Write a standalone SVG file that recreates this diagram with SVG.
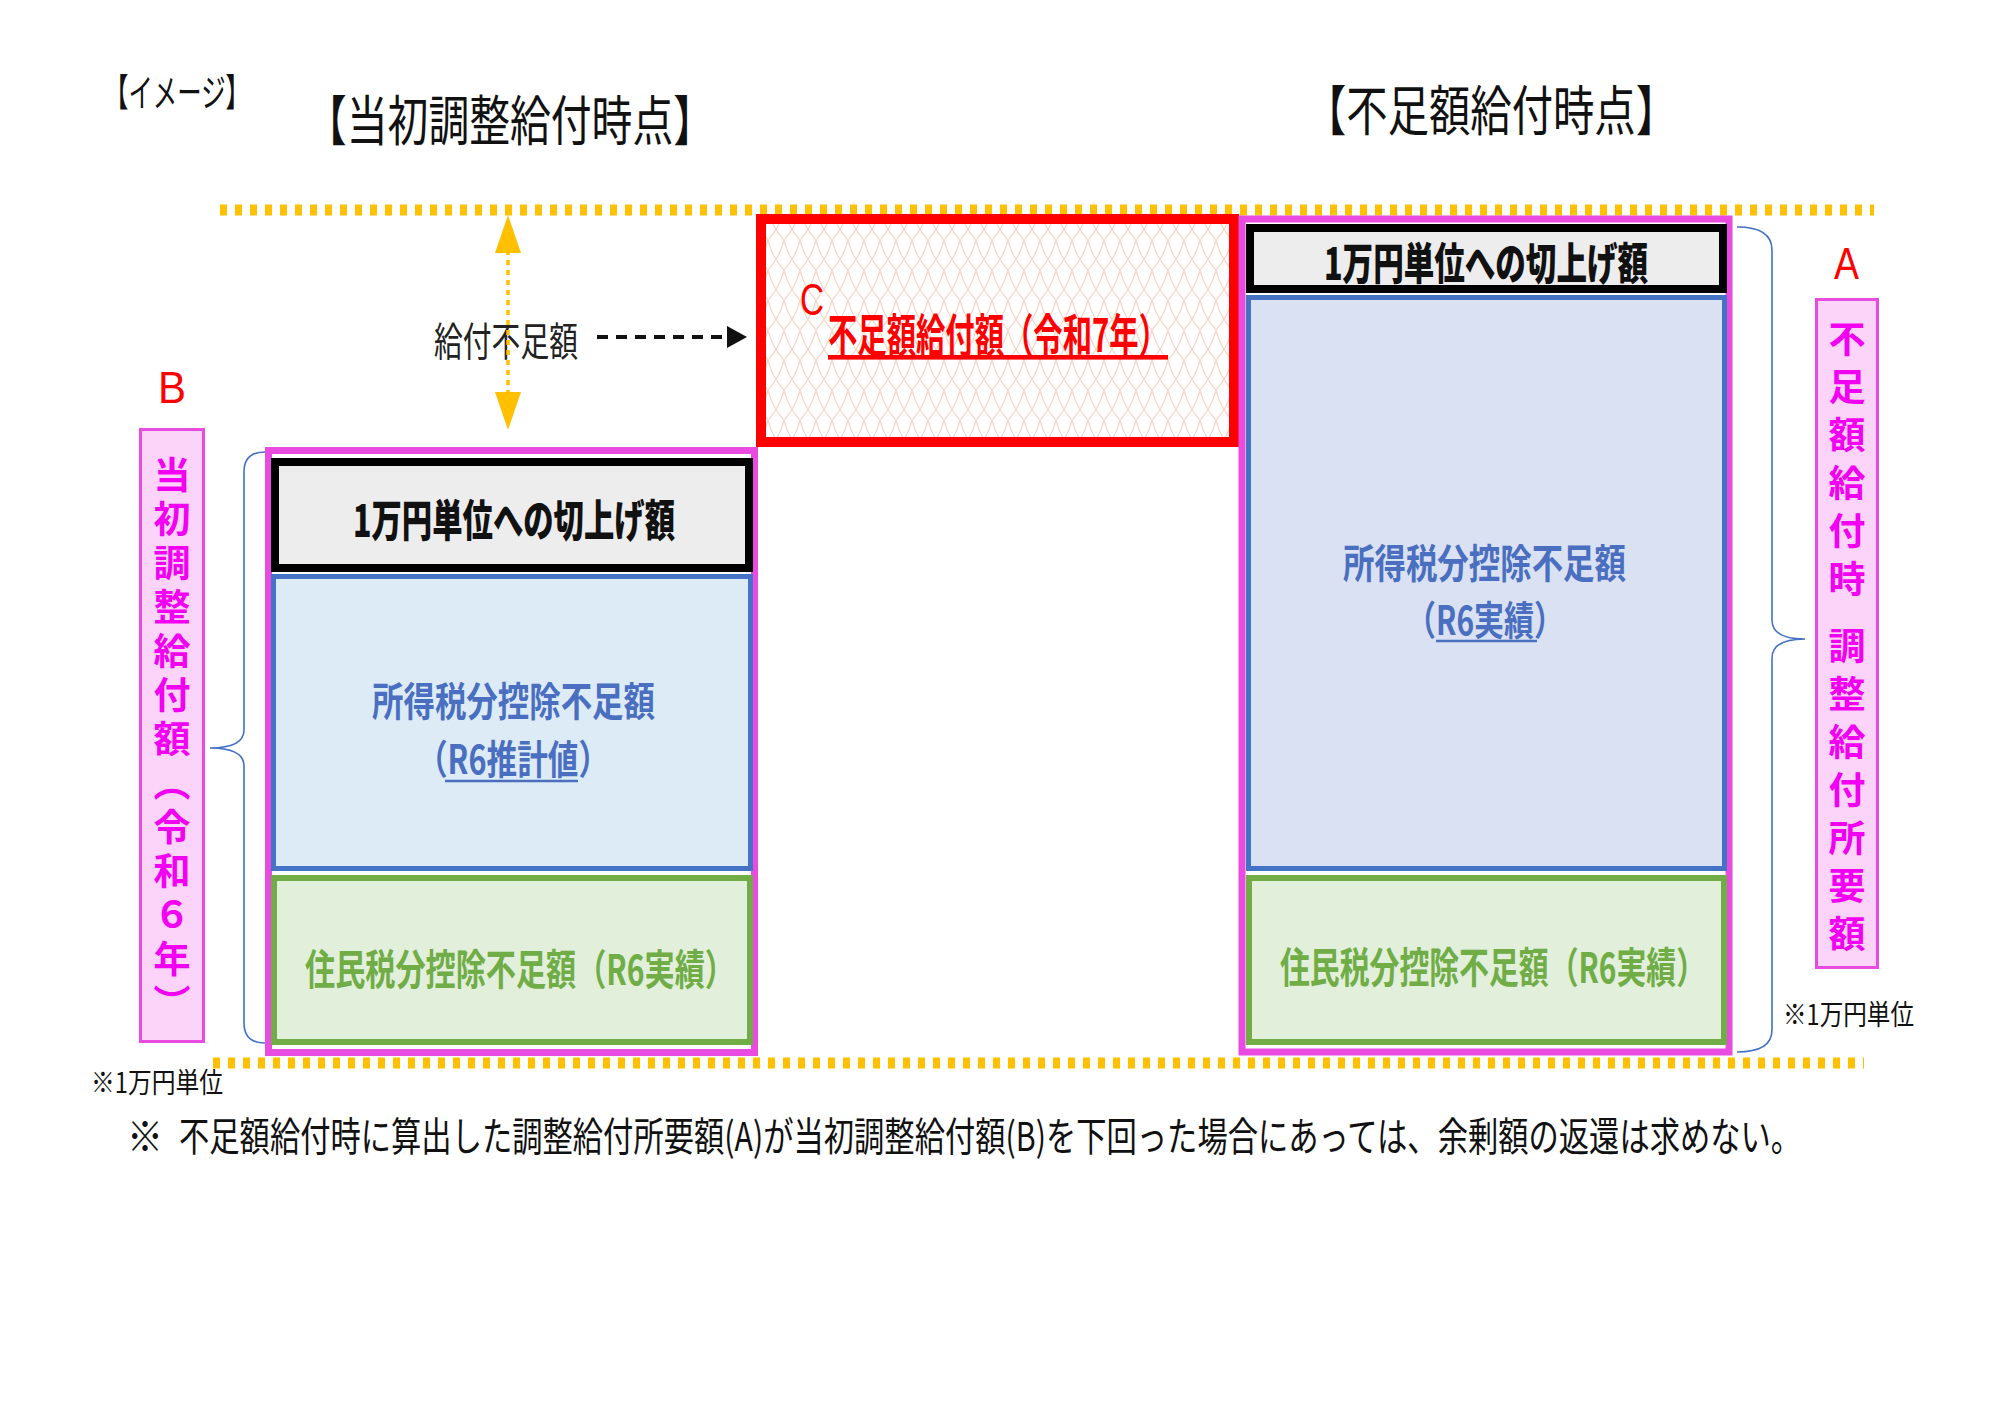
<svg xmlns="http://www.w3.org/2000/svg" width="2000" height="1414" viewBox="0 0 2000 1414">
<style>
  .jp { font-family: "Noto Sans CJK JP", "Noto Sans", sans-serif; }
  .lat { font-family: "Liberation Sans", Arial, sans-serif; }
  .title { font-size: 54px; fill: #111; }
  .cap { font-size: 44px; font-weight: 900; fill: #111; }
  .blue { font-size: 40px; font-weight: 700; fill: #4A6FC0; }
  .green { font-size: 42px; font-weight: 700; fill: #70AD47; }
  .red { fill: #FF0000; }
  .mag { font-size: 37px; font-weight: 700; fill: #F200F2; writing-mode: vertical-rl; }
  .note { font-size: 40px; fill: #111; }
  .small { font-size: 28px; fill: #111; }
  .pink { fill: none; stroke: #E94ADF; stroke-width: 7; }
  .blk { fill: #EDEDED; stroke: #000; stroke-width: 8; }
  .bluebox { stroke: #4472C4; stroke-width: 5; }
  .grn { fill: #E2EFDA; stroke: #70AD47; stroke-width: 6; }
  .lbl { fill: #FCD4FA; stroke: #E94ADF; stroke-width: 3; }
  .brace { fill: none; stroke: #4472C4; stroke-width: 1.6; }
  .gold { fill: none; stroke: #FFC000; stroke-width: 11; stroke-dasharray: 7 8; }
  .uline { stroke: #4A6FC0; stroke-width: 2.5; }
</style>
<defs>
  <pattern id="hatch" width="16" height="30" patternUnits="userSpaceOnUse">
    <rect width="16" height="30" fill="#FFFFFF"/>
    <path d="M0,0 Q4,17 16,30 M16,0 Q12,17 0,30" stroke="#F8D2C0" stroke-width="1.1" fill="none"/>
  </pattern>
</defs>
<rect width="2000" height="1414" fill="#FFFFFF"/>

<!-- headings -->
<text class="jp" x="104" y="106" font-size="38" fill="#111" textLength="146" lengthAdjust="spacingAndGlyphs">【イメージ】</text>
<text class="jp title" x="306" y="141" textLength="408" lengthAdjust="spacingAndGlyphs">【当初調整給付時点】</text>
<text class="jp title" x="1305" y="131" textLength="372" lengthAdjust="spacingAndGlyphs">【不足額給付時点】</text>

<!-- level lines -->
<g id="levels">
  <line class="gold" x1="220" y1="210" x2="1874" y2="210"/>
  <line class="gold" x1="213" y1="1063" x2="1864" y2="1063"/>
</g>

<!-- C box -->
<g id="nodeC">
  <rect x="761" y="219" width="473" height="223" fill="url(#hatch)" stroke="#FF0000" stroke-width="10"/>
  <text class="lat red" x="800" y="315" font-size="44" textLength="24" lengthAdjust="spacingAndGlyphs">C</text>
  <text class="jp red" x="828" y="352" font-size="46" font-weight="700" textLength="340" lengthAdjust="spacingAndGlyphs" text-decoration="underline">不足額給付額（令和7年）</text>
</g>

<!-- left column -->
<g id="leftColumn">
  <rect class="pink" x="268.5" y="450.5" width="486" height="602"/>
  <g id="leftRound">
    <rect class="blk" x="275" y="462" width="474" height="106"/>
    <text class="jp cap" x="353" y="537" textLength="322" lengthAdjust="spacingAndGlyphs">1万円単位への切上げ額</text>
  </g>
  <g id="leftIncome">
    <rect class="bluebox" x="273.5" y="576.5" width="477" height="292" fill="#DDEBF7"/>
    <text class="jp blue" x="372" y="716" textLength="283" lengthAdjust="spacingAndGlyphs">所得税分控除不足額</text>
    <text class="jp blue" x="417" y="774" textLength="192" lengthAdjust="spacingAndGlyphs">（R6推計値）</text>
    <line class="uline" x1="445" y1="781" x2="578" y2="781"/>
  </g>
  <g id="leftResident">
    <rect class="grn" x="274" y="878" width="476" height="164"/>
    <text class="jp green" x="305" y="985" textLength="430" lengthAdjust="spacingAndGlyphs">住民税分控除不足額（R6実績）</text>
  </g>
</g>

<!-- right column -->
<g id="rightColumn">
  <rect class="pink" x="1242" y="219" width="487" height="833"/>
  <g id="rightRound">
    <rect class="blk" x="1250" y="228" width="473" height="61"/>
    <text class="jp cap" x="1324" y="280" textLength="324" lengthAdjust="spacingAndGlyphs">1万円単位への切上げ額</text>
  </g>
  <g id="rightIncome">
    <rect class="bluebox" x="1248.5" y="297.5" width="476" height="571" fill="#D9E1F2"/>
    <text class="jp blue" x="1343" y="578" textLength="283" lengthAdjust="spacingAndGlyphs">所得税分控除不足額</text>
    <text class="jp blue" x="1406" y="635" textLength="158" lengthAdjust="spacingAndGlyphs">（R6実績）</text>
    <line class="uline" x1="1436" y1="641" x2="1537" y2="641"/>
  </g>
  <g id="rightResident">
    <rect class="grn" x="1249" y="878" width="475" height="164"/>
    <text class="jp green" x="1280" y="983" textLength="426" lengthAdjust="spacingAndGlyphs">住民税分控除不足額（R6実績）</text>
  </g>
</g>

<!-- label B -->
<g id="labelB">
  <text class="lat red" x="158" y="403" font-size="44" textLength="28" lengthAdjust="spacingAndGlyphs">B</text>
  <rect class="lbl" x="140.5" y="429.5" width="63" height="612"/>
  <text class="jp mag" x="172" y="456" letter-spacing="7">当初調整給付額（令和６年）</text>
</g>

<!-- label A -->
<g id="labelA">
  <text class="lat red" x="1834" y="279" font-size="44" textLength="25" lengthAdjust="spacingAndGlyphs">A</text>
  <rect class="lbl" x="1816.5" y="299.5" width="61" height="668"/>
  <text class="jp mag" x="1847" y="320" letter-spacing="11">不足額給付時 調整給付所要額</text>
</g>

<!-- gap label -->
<g id="gapLabel">
  <text class="jp" x="434" y="356" font-size="40" fill="#222" textLength="144" lengthAdjust="spacingAndGlyphs">給付不足額</text>
</g>

<!-- connectors -->
<g id="connectors">
  <line x1="508" y1="250" x2="508" y2="394" stroke="#FFC000" stroke-width="3.5" stroke-dasharray="5 5"/>
  <polygon points="508,215 495,253 521,253" fill="#FFC000"/>
  <polygon points="495,392 521,392 508,430" fill="#FFC000"/>
  <line x1="597" y1="337" x2="730" y2="337" stroke="#111" stroke-width="4" stroke-dasharray="11 8"/>
  <polygon points="727,326 747,337 727,348" fill="#111"/>
  <path class="brace" d="M265,452 Q244,452 244,472 L244,730 Q244,748 210,748 Q244,748 244,766 L244,1023 Q244,1043 265,1043"/>
  <path class="brace" d="M1737,227 Q1772,227 1772,250 L1772,620 Q1772,639 1805,639 Q1772,639 1772,658 L1772,1030 Q1772,1052 1737,1052"/>
</g>

<!-- notes -->
<text class="jp small" x="91" y="1093" textLength="132" lengthAdjust="spacingAndGlyphs">※1万円単位</text>
<text class="jp small" x="1783" y="1025" textLength="131" lengthAdjust="spacingAndGlyphs">※1万円単位</text>
<text class="jp note" x="127" y="1151" textLength="36" lengthAdjust="spacingAndGlyphs">※</text>
<text class="jp note" transform="translate(179,1151) scale(0.72,1)" x="0" y="0" textLength="2253" lengthAdjust="spacingAndGlyphs">不足額給付時に算出した調整給付所要額(A)が当初調整給付額(B)を下回った場合にあっては、余剰額の返還は求めない。</text>
</svg>
